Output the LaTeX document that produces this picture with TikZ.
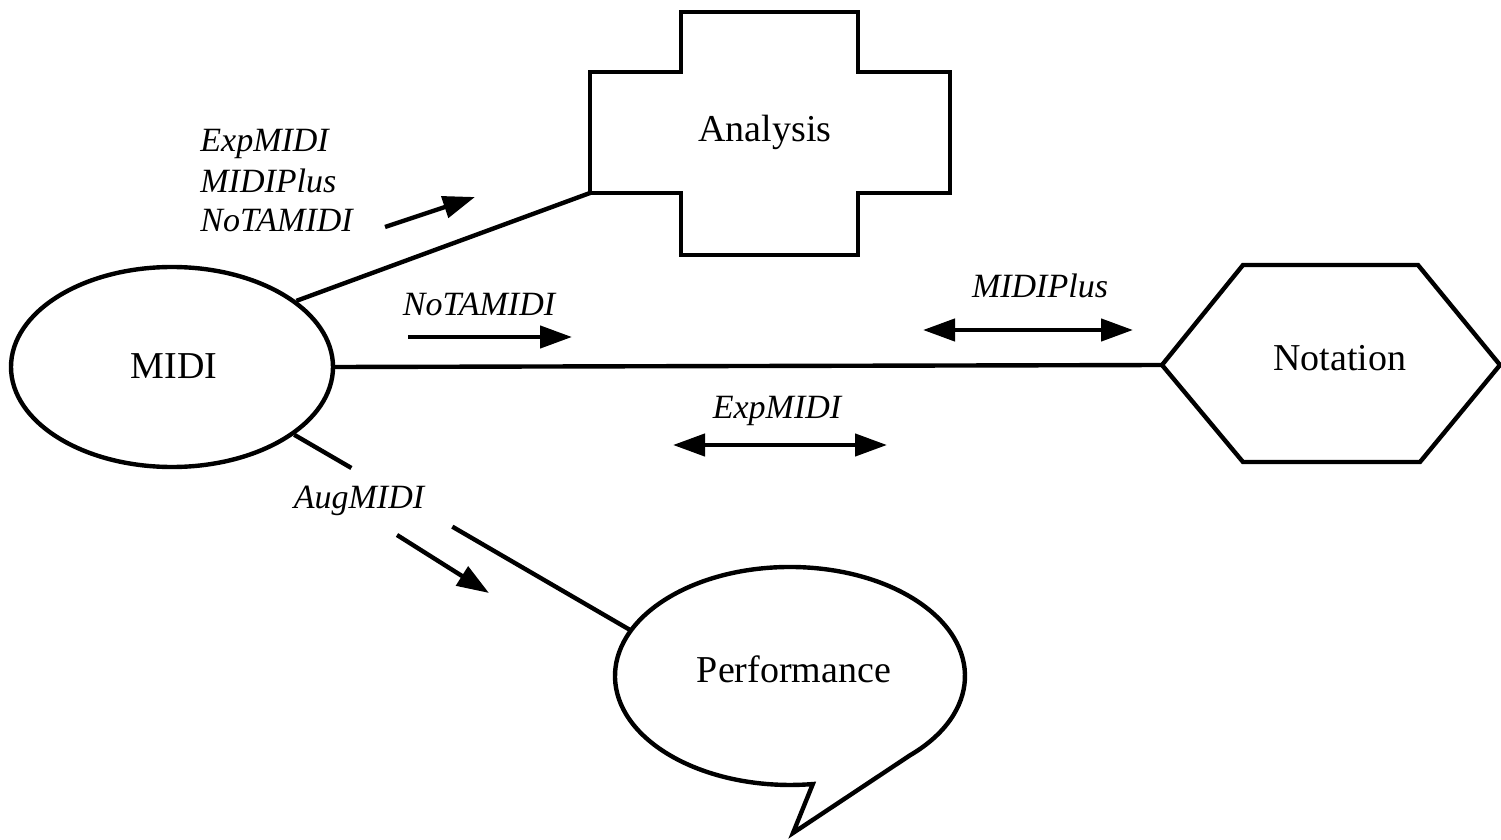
\documentclass[tikz,border=0pt]{standalone}
\usepackage{fontspec}
\setmainfont{Liberation Serif}
\usetikzlibrary{arrows.meta,calc,shapes.geometric}
\begin{document}
\begin{tikzpicture}[x=0.5pt,y=-0.5pt,
  shapeline/.style={draw=black,line width=2.2pt,line join=miter},
  conn/.style={draw=black,line width=2.2pt},
  arr/.style={line width=2.2pt,-{Triangle[length=16pt,width=11pt]}},
  darr/.style={line width=2.2pt,{Triangle[length=16pt,width=11pt]}-{Triangle[length=16pt,width=11pt]}},
  nodetext/.style={font=\fontsize{19}{22}\selectfont,anchor=base,inner sep=0pt},
  lab/.style={font=\fontsize{17}{20}\selectfont\itshape,anchor=base,inner sep=0pt}]
\useasboundingbox (0,0) rectangle (1501,840);

% MIDI ellipse
\node[ellipse,shapeline,minimum width=161pt,minimum height=100pt,inner sep=0pt] (midi) at (172,367) {};
\node[nodetext] (midit) at (174,378) {MIDI};

% Analysis cross
\coordinate (ana) at (770,133);
\draw[shapeline] (681,12) -- (858,12) -- (858,72) -- (950,72) -- (950,193) -- (858,193)
  -- (858,255) -- (681,255) -- (681,193) -- (590,193) -- (590,72) -- (681,72) -- cycle;
\coordinate (anaC) at (590,193);
\node[nodetext] (anat) at (765,142) {Analysis};

% Notation hexagon
\draw[shapeline] (1162,365) -- (1243,265) -- (1418,265) -- (1500,365) -- (1420,462) -- (1243,462) -- cycle;
\coordinate (notaW) at (1162,365);
\node[nodetext] (notat) at (1340,370) {Notation};

% Performance speech bubble
\node[ellipse,minimum width=175pt,minimum height=109pt,inner sep=0pt] (perf) at (790,676) {};
\draw[shapeline] ($(perf.center)+(120.0,79.3)$) arc[start angle=46.7,end angle=-277.5,x radius=175,y radius=109]
  -- (793,833) -- cycle;
\node[nodetext] (perft) at (794,682) {Performance};

% connectors
\draw[conn] (midi.28) -- (anaC);
\draw[conn] (midi.east) -- (notaW);
\coordinate (m1) at (midi.-29);
\coordinate (p1) at (perf.164);
\draw[conn] (m1) -- ($(m1)!0.17!(p1)$) ($(m1)!0.47!(p1)$) -- (p1);

% arrows
\draw[arr] (385,227) -- (475,197);
\draw[arr] (408,337) -- (572,337);
\draw[darr] (923,330) -- (1133,330);
\draw[darr] (673,445) -- (887,445);
\draw[arr] (397,535) -- (489,593);

% labels
\node[lab,anchor=base west] (l1) at (200,152) {ExpMIDI};
\node[lab,anchor=base west] (l2) at (200,192) {MIDIPlus};
\node[lab,anchor=base west] (l3) at (200,232) {NoTAMIDI};
\node[lab] (l4) at (479,315) {NoTAMIDI};
\node[lab] (l5) at (1040,298) {MIDIPlus};
\node[lab] (l6) at (777,418) {ExpMIDI};
\node[lab] (l7) at (359,508) {AugMIDI};
\end{tikzpicture}
\end{document}
